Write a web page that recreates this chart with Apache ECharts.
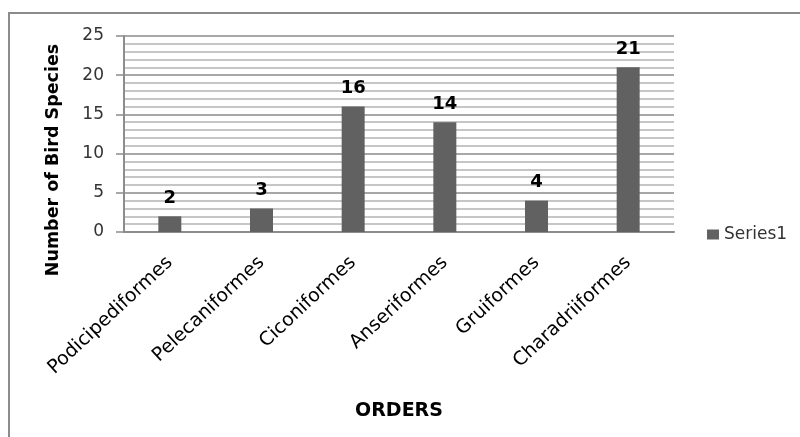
<!DOCTYPE html>
<html>
<head>
<meta charset="utf-8">
<script src="https://cdn.jsdelivr.net/npm/echarts@6/dist/echarts.min.js"></script>
<style>
  html, body { margin: 0; padding: 0; background: #fff; }
  #chart { width: 800px; height: 437px; }
</style>
</head>
<body>
<div id="chart"></div>
<script>
// Bird species counted per order
const orders = ['Podicipediformes', 'Pelecaniformes', 'Ciconiformes', 'Anseriformes', 'Gruiformes', 'Charadriiformes'];
const speciesCounts = [2, 3, 16, 14, 4, 21];
const seriesName = 'Series1';
const yTitle = 'Number of Bird Species';
const xTitle = 'ORDERS';

const chart = echarts.init(document.getElementById('chart'), null, { renderer: 'canvas' });

chart.setOption({
  animation: false,
  backgroundColor: '#ffffff',
  grid: { left: 124, right: 126, top: 36, bottom: 205, containLabel: false },
  legend: {
    left: 702,
    top: 221,
    itemWidth: 12,
    itemHeight: 10,
    itemGap: 6,
    icon: 'rect',
    textStyle: { fontFamily: 'DejaVu Sans', fontSize: 17, color: '#333' },
    data: [seriesName]
  },
  graphic: [
    {
      type: 'rect',
      shape: { x: 9, y: 13, width: 820, height: 450 },
      style: { fill: 'none', stroke: '#8c8c8c', lineWidth: 2 },
      silent: true
    },
    {
      type: 'text',
      x: 53,
      y: 160,
      rotation: Math.PI / 2,
      style: {
        text: yTitle,
        fontFamily: 'DejaVu Sans',
        fontWeight: 'bold',
        fontSize: 17.5,
        fill: '#000',
        align: 'center',
        verticalAlign: 'middle'
      }
    }
  ],
  xAxis: {
    type: 'category',
    data: orders,
    name: xTitle,
    nameLocation: 'middle',
    nameGap: 170,
    nameTextStyle: { fontFamily: 'DejaVu Sans', fontWeight: 'bold', fontSize: 19, color: '#000' },
    axisLine: { lineStyle: { color: '#8c8c8c', width: 2 } },
    axisTick: { show: false },
    axisLabel: {
      rotate: 43,
      margin: 28,
      interval: 0,
      fontFamily: 'DejaVu Sans',
      fontSize: 19,
      color: '#000'
    }
  },
  yAxis: {
    type: 'value',
    min: 0,
    max: 25,
    interval: 5,
    axisLine: { show: true, lineStyle: { color: '#8c8c8c', width: 2 } },
    axisTick: { show: true, length: 8, lineStyle: { color: '#8c8c8c', width: 1.5 } },
    axisLabel: { margin: 20, fontFamily: 'DejaVu Sans', fontSize: 17, color: '#333' },
    splitLine: { show: true, lineStyle: { color: '#8a8a8a', width: 1.5 } },
    minorTick: { show: false, splitNumber: 5 },
    minorSplitLine: { show: true, lineStyle: { color: '#b4b4b4', width: 1.5 } }
  },
  series: [
    {
      name: seriesName,
      type: 'bar',
      data: speciesCounts,
      barWidth: 23,
      itemStyle: { color: '#616161' },
      label: {
        show: true,
        position: 'top',
        distance: 9,
        fontFamily: 'DejaVu Sans',
        fontWeight: 'bold',
        fontSize: 18,
        color: '#000'
      }
    }
  ]
});
</script>
</body>
</html>
